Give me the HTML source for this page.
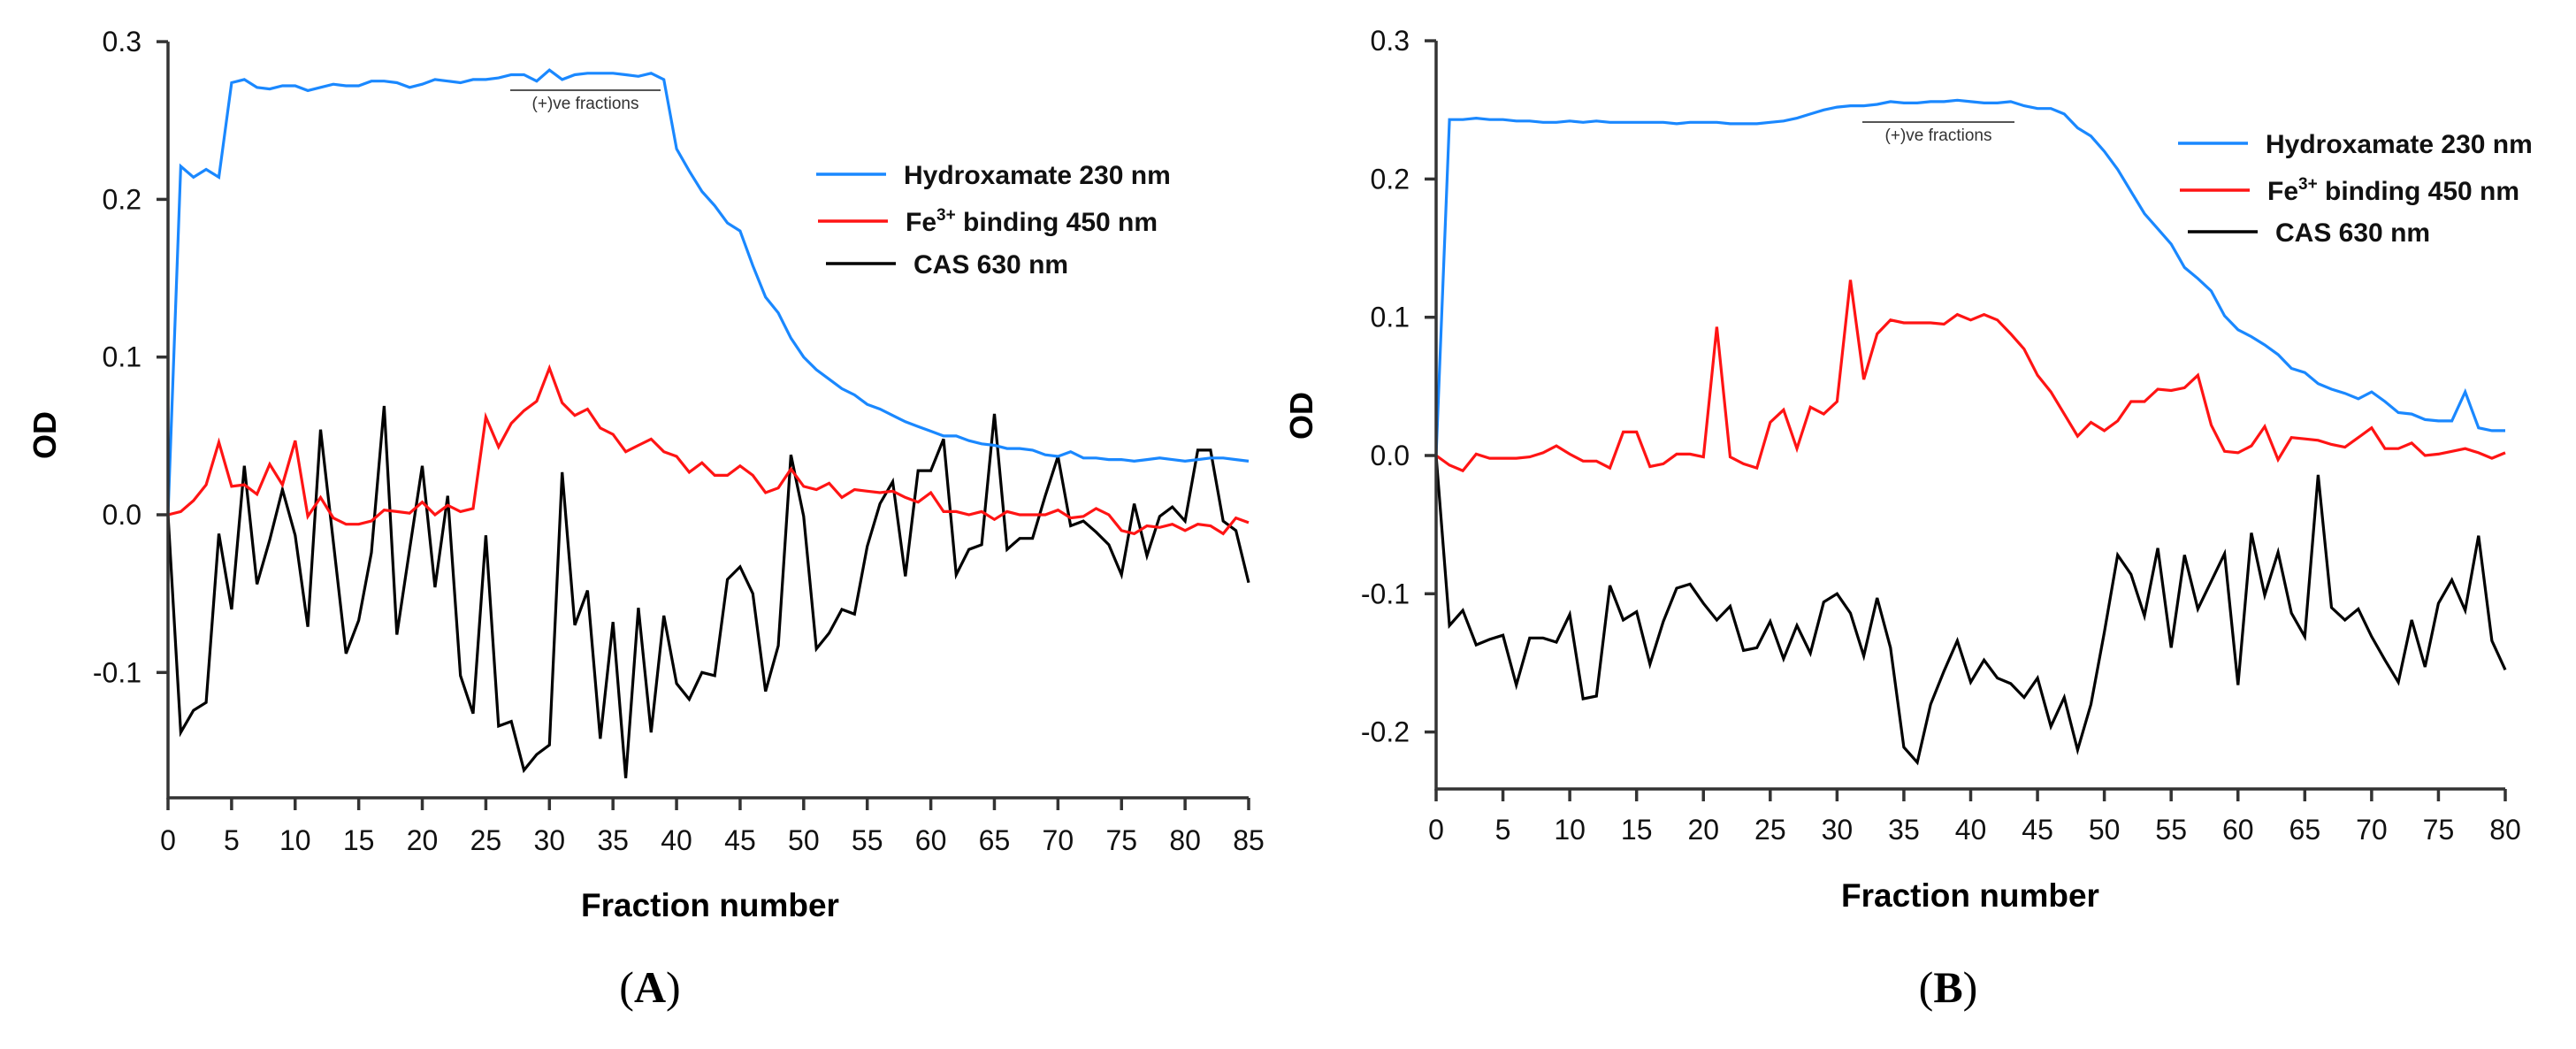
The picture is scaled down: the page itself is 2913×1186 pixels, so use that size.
<!DOCTYPE html>
<html><head><meta charset="utf-8"><style>
html,body{margin:0;padding:0;background:#fff;}
svg{display:block;font-family:"Liberation Sans",Arial,sans-serif;}
</style></head><body>
<svg id="chart" width="2913" height="1186" viewBox="0 0 2913 1186" xmlns="http://www.w3.org/2000/svg"></svg>
<script>
// ---- Panel A data ----
const fractionsA = Array.from({length:86},(_, i)=>i);
const hydroxA = [0,.221,.214,.219,.214,.274,.276,.271,.270,.272,.272,.269,.271,.273,.272,.272,.275,.275,.274,.271,.273,.276,.275,.274,.276,.276,.277,.279,.279,.275,.282,.276,.279,.280,.280,.280,.279,.278,.280,.276,.232,.218,.205,.196,.185,.180,.158,.138,.128,.112,.100,.092,.086,.080,.076,.070,.067,.063,.059,.056,.053,.050,.050,.047,.045,.044,.042,.042,.041,.038,.037,.040,.036,.036,.035,.035,.034,.035,.036,.035,.034,.035,.036,.036,.035,.034];
const feA = [0,.002,.009,.019,.046,.018,.019,.013,.032,.019,.047,-.001,.011,-.002,-.006,-.006,-.004,.003,.002,.001,.008,0,.006,.002,.004,.062,.043,.058,.066,.072,.093,.071,.063,.067,.055,.051,.040,.044,.048,.040,.037,.027,.033,.025,.025,.031,.025,.014,.017,.029,.018,.016,.020,.011,.016,.015,.014,.015,.011,.008,.014,.002,.002,0,.002,-.003,.002,0,0,0,.003,-.002,-.001,.004,0,-.010,-.012,-.007,-.008,-.006,-.010,-.006,-.007,-.012,-.002,-.005];
const casA = [0,-.138,-.124,-.119,-.012,-.060,.031,-.044,-.016,.016,-.013,-.071,.054,-.017,-.088,-.067,-.024,.069,-.076,-.022,.031,-.046,.012,-.102,-.126,-.013,-.134,-.131,-.162,-.152,-.146,.027,-.070,-.048,-.142,-.068,-.167,-.059,-.138,-.064,-.107,-.117,-.100,-.102,-.041,-.033,-.050,-.112,-.083,.038,-.001,-.085,-.075,-.060,-.063,-.020,.007,.021,-.039,.028,.028,.048,-.038,-.022,-.019,.064,-.022,-.015,-.015,.012,.037,-.007,-.004,-.011,-.019,-.038,.007,-.026,-.001,.005,-.004,.041,.041,-.004,-.010,-.043];
const xTicksA = [0,5,10,15,20,25,30,35,40,45,50,55,60,65,70,75,80,85];
const yTicksA = [0.3,0.2,0.1,0.0,-0.1];
const yLabelsA = ["0.3","0.2","0.1","0.0","-0.1"];
// ---- Panel B data ----
const fractionsB = Array.from({length:81},(_, i)=>i);
const hydroxB = [0,.243,.243,.244,.243,.243,.242,.242,.241,.241,.242,.241,.242,.241,.241,.241,.241,.241,.240,.241,.241,.241,.240,.240,.240,.241,.242,.244,.247,.250,.252,.253,.253,.254,.256,.255,.255,.256,.256,.257,.256,.255,.255,.256,.253,.251,.251,.247,.237,.231,.220,.207,.191,.175,.164,.153,.136,.128,.119,.101,.091,.086,.080,.073,.063,.060,.052,.048,.045,.041,.046,.039,.031,.030,.026,.025,.025,.046,.020,.018,.018];
const feB = [0,-.007,-.011,.001,-.002,-.002,-.002,-.001,.002,.007,.001,-.004,-.004,-.009,.017,.017,-.008,-.006,.001,.001,-.001,.093,-.001,-.006,-.009,.024,.033,.005,.035,.030,.039,.127,.055,.088,.098,.096,.096,.096,.095,.102,.098,.102,.098,.088,.077,.058,.046,.030,.014,.024,.018,.025,.039,.039,.048,.047,.049,.058,.022,.003,.002,.007,.021,-.003,.013,.012,.011,.008,.006,.013,.020,.005,.005,.009,0,.001,.003,.005,.002,-.002,.002];
const casB = [0,-.123,-.112,-.137,-.133,-.130,-.166,-.132,-.132,-.135,-.115,-.176,-.174,-.094,-.119,-.113,-.151,-.120,-.096,-.093,-.107,-.119,-.109,-.141,-.139,-.120,-.147,-.123,-.143,-.106,-.100,-.114,-.145,-.103,-.139,-.211,-.222,-.180,-.156,-.134,-.164,-.148,-.161,-.165,-.175,-.161,-.196,-.175,-.213,-.180,-.128,-.072,-.086,-.116,-.067,-.139,-.072,-.111,-.091,-.071,-.166,-.056,-.101,-.070,-.114,-.131,-.014,-.110,-.119,-.111,-.131,-.148,-.164,-.119,-.153,-.107,-.090,-.112,-.058,-.134,-.155];
const xTicksB = [0,5,10,15,20,25,30,35,40,45,50,55,60,65,70,75,80];
const yTicksB = [0.3,0.2,0.1,0.0,-0.1,-0.2];
const yLabelsB = ["0.3","0.2","0.1","0.0","-0.1","-0.2"];

const NS="http://www.w3.org/2000/svg";
const svg=document.getElementById('chart');
function mk(tag,attrs,parent){const e=document.createElementNS(NS,tag);for(const k in attrs)e.setAttribute(k,attrs[k]);(parent||svg).appendChild(e);return e;}

function panel(cfg){
  const g=mk('g',{});
  
  
  const xs=v=>cfg.x0+(v-cfg.xmin)*(cfg.x1-cfg.x0)/(cfg.xmax-cfg.xmin);
  const ys=v=>cfg.yZero-v*cfg.yPer;
  const series=[[cfg.cas,'#000','cas-630-line'],[cfg.fe,'#ff1414','fe-binding-450-line'],[cfg.hyd,'#1a88ff','hydroxamate-230-line']];
  series.forEach(([vals,col,nm])=>{
    const d=vals.map((v,i)=>(i?'L':'M')+xs(cfg.fr[i]).toFixed(1)+','+ys(v).toFixed(1)).join(' ');
    const p=mk('path',{d:d,fill:'none',stroke:col,'stroke-width':3.2,'stroke-linejoin':'miter'},g);
    
    
  });
  const ax=mk('path',{d:`M${cfg.x0},${ys(cfg.yTicks[0])} L${cfg.x0},${cfg.yBottom} L${cfg.x1},${cfg.yBottom}`,fill:'none',stroke:'#333','stroke-width':3.5},g);
  
  
  cfg.yTicks.forEach((t,i)=>{
    mk('line',{x1:cfg.x0-13,x2:cfg.x0,y1:ys(t),y2:ys(t),stroke:'#333','stroke-width':3.5},g);
    const tx=mk('text',{x:cfg.x0-30,y:ys(t)+11,'text-anchor':'end','font-size':32,fill:'#111'},g);
    tx.textContent=cfg.yLabels[i];
    
    
  });
  cfg.xTicks.forEach(t=>{
    mk('line',{x1:xs(t),x2:xs(t),y1:cfg.yBottom,y2:cfg.yBottom+14,stroke:'#333','stroke-width':3.5},g);
    const tx=mk('text',{x:xs(t),y:cfg.xLabelY+11,'text-anchor':'middle','font-size':32,fill:'#111'},g);
    tx.textContent=String(t);
    
    
  });
  const yt=mk('text',{x:0,y:0,transform:`translate(${cfg.odX},${cfg.odY}) rotate(-90)`,'text-anchor':'middle','font-size':36,'font-weight':'bold',fill:'#000'},g);
  yt.textContent='OD';
  
  
  const xt=mk('text',{x:cfg.fnX,y:cfg.fnY,'text-anchor':'middle','font-size':37,'font-weight':'bold',fill:'#000'},g);
  xt.textContent='Fraction number';
  
  
  mk('line',{x1:cfg.pv[0],x2:cfg.pv[1],y1:cfg.pv[2],y2:cfg.pv[2],stroke:'#555','stroke-width':2},g);
  const pt=mk('text',{x:(cfg.pv[0]+cfg.pv[1])/2,y:cfg.pv[2]+21,'text-anchor':'middle','font-size':19,fill:'#333'},g);
  pt.textContent='(+)ve fractions';
  
  
  const lg=mk('g',{},g);
  
  
  const L=cfg.leg;
  [['#1a88ff',L.y[0],L.x,'Hydroxamate 230 nm'],['#ff1414',L.y[1],L.x+2,null],['#000',L.y[2],L.x+11,'CAS 630 nm']].forEach(([c,y,x,label],k)=>{
    mk('line',{x1:x,x2:x+79,y1:y,y2:y,stroke:c,'stroke-width':3.5},lg);
    const t=mk('text',{x:x+99,y:y+11,'font-size':30,'font-weight':'bold',fill:'#111'},lg);
    if(label){t.textContent=label;}
    else{t.textContent='Fe';const s=mk('tspan',{dy:-12,'font-size':19},t);s.textContent='3+';const r=mk('tspan',{dy:12},t);r.textContent=' binding 450 nm';}
    
    
  });
  const pl=mk('text',{x:cfg.plX,y:1133,'text-anchor':'middle','font-size':50,'font-family':'"Liberation Serif",serif',fill:'#000'},g);
  pl.appendChild(document.createTextNode('('));
  const b=mk('tspan',{'font-weight':'bold'},pl);b.textContent=cfg.letter;
  pl.appendChild(document.createTextNode(')'));
  
  
}

panel({name:'panel-a',fr:fractionsA,hyd:hydroxA,fe:feA,cas:casA,xTicks:xTicksA,yTicks:yTicksA,yLabels:yLabelsA,
  xmin:0,xmax:85,x0:190,x1:1412,yZero:582,yPer:1783,yBottom:902,xLabelY:950,
  odX:63,odY:492,fnX:803,fnY:1036,pv:[577,747,102],leg:{x:923,y:[197,250,298]},plX:735,letter:'A'});
panel({name:'panel-b',fr:fractionsB,hyd:hydroxB,fe:feB,cas:casB,xTicks:xTicksB,yTicks:yTicksB,yLabels:yLabelsB,
  xmin:0,xmax:80,x0:1624,x1:2833,yZero:515,yPer:1563,yBottom:892,xLabelY:938,
  odX:1484,odY:470,fnX:2228,fnY:1025,pv:[2106,2278,138],leg:{x:2463,y:[162,215,262]},plX:2203,letter:'B'});
</script>
</body></html>
